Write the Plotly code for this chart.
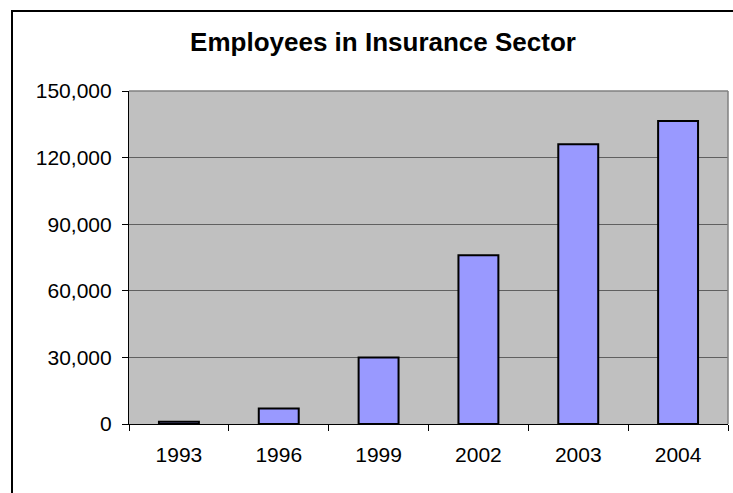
import plotly.graph_objects as go

# Employees in the insurance sector by year
years = ["1993", "1996", "1999", "2002", "2003", "2004"]
employees = [1000, 7000, 30000, 76000, 126000, 136500]
y_ticks = [0, 30000, 60000, 90000, 120000, 150000]
y_tick_labels = ["0", "30,000", "60,000", "90,000", "120,000", "150,000"]

W, H = 733, 493
L, R, T, B = 129, 5, 91, 69
plot_w = W - L - R
plot_h = H - T - B

fig = go.Figure()
fig.add_trace(go.Bar(
    x=years,
    y=employees,
    marker=dict(color="#9999FF", line=dict(color="#000000", width=2)),
    width=0.4,
))


def px_x(p):
    return (p - L) / plot_w


def px_y(p):
    return (H - B - p) / plot_h


# outer chart frame, running off the right and bottom edges
fig.add_shape(type="rect", xref="paper", yref="paper",
              x0=px_x(12), x1=px_x(750), y0=px_y(11), y1=px_y(510),
              line=dict(color="#000000", width=2), fillcolor="rgba(0,0,0,0)",
              layer="above")

# plot-area border on top and right
fig.add_shape(type="line", xref="paper", yref="paper", x0=0, x1=1, y0=1, y1=1,
              line=dict(color="#808080", width=1.5))
fig.add_shape(type="line", xref="paper", yref="paper", x0=1, x1=1, y0=0, y1=1,
              line=dict(color="#808080", width=1.5))

fig.update_layout(
    width=W, height=H,
    margin=dict(l=L, r=R, t=T, b=B),
    paper_bgcolor="#FFFFFF",
    plot_bgcolor="#C0C0C0",
    showlegend=False,
    font=dict(family="Liberation Sans, Arial, sans-serif", size=21, color="#000000"),
    title=dict(text="<b>Employees in Insurance Sector</b>",
               x=383 / W, xref="container", xanchor="center",
               y=1 - 42 / H, yref="container", yanchor="middle",
               font=dict(size=26, color="#000000")),
)

fig.update_xaxes(
    type="category",
    tickson="boundaries",
    ticks="outside", ticklen=6, tickcolor="#000000", tickwidth=1,
    showline=True, linecolor="#000000", linewidth=1.2,
    showgrid=False,
    ticklabelstandoff=12,
    range=[-0.5, 5.5],
)

fig.update_yaxes(
    range=[0, 150000],
    tickvals=y_ticks, ticktext=y_tick_labels,
    ticks="outside", ticklen=6, tickcolor="#000000", tickwidth=1,
    showline=True, linecolor="#000000", linewidth=1.2,
    showgrid=True, gridcolor="#606060", gridwidth=1.2,
    zeroline=False,
    ticklabelstandoff=6,
)

fig.write_html("out.html")
